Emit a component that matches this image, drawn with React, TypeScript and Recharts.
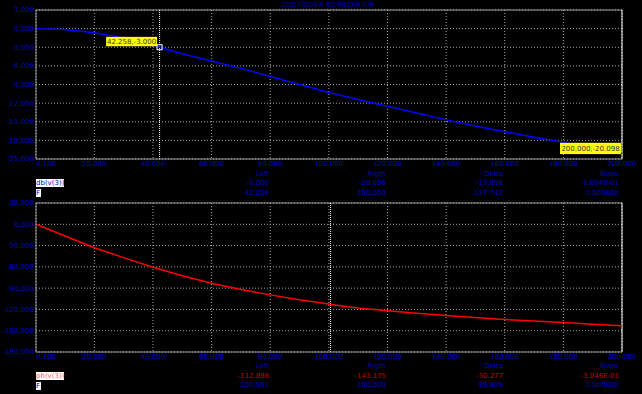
import React from 'react';
import { LineChart, Line, XAxis, YAxis, CartesianGrid, ReferenceLine, ReferenceDot } from 'recharts';

const title = '2ND ORDER RC-FILTER CIR';

const freqTicks = [0.1, 20, 40, 60, 80, 100, 120, 140, 160, 180, 200];
const dbTicks = [3, 0, -3, -6, -9, -12, -15, -18, -21];
const phTicks = [30, 0, -30, -60, -90, -120, -150, -180];

const dbFreq = [0.1, 10, 20, 30, 40, 42.258, 50, 60, 70, 80, 90, 100, 110, 120, 130, 140, 150, 160, 170, 180, 190, 200];
const dbValues = [0, -0.15, -0.65, -1.5, -2.7, -3.0, -4.05, -5.2, -6.4, -7.7, -9.0, -10.3, -11.4, -12.5, -13.6, -14.7, -15.7, -16.6, -17.5, -18.3, -19.2, -20.098];

const phFreq = [0.1, 10, 20, 30, 40, 50, 60, 70, 80, 90, 100, 100.591, 110, 120, 130, 140, 150, 160, 170, 180, 190, 200];
const phValues = [0, -16.5, -33, -47, -60.5, -72.5, -83, -92, -99.5, -106.5, -112.4, -112.898, -118, -121.8, -125.5, -128.6, -131.5, -134.2, -136.3, -138.5, -140.9, -143.175];

const colHeaders = ['Left', 'Right', 'Delta', 'Slope'];
const dbCursorValues = ['-3.000', '-20.098', '-17.098', '-1.084E-01'];
const dbCursorFreqs = ['42.258', '200.000', '157.742', '1.000E00'];
const phCursorValues = ['-112.898', '-143.175', '-30.277', '-3.046E-01'];
const phCursorFreqs = ['100.591', '200.000', '99.409', '1.000E00'];

const dbLeft = { f: 42.258, v: -3.0, label: '42.258,-3.000' };
const dbRight = { f: 200, v: -20.098, label: '200.000,-20.098' };
const phLeftF = 100.591;
const phRightF = 200;

const dbData = dbFreq.map((f, i) => ({ f, v: dbValues[i] }));
const phData = phFreq.map((f, i) => ({ f, v: phValues[i] }));

const FONT = 'DejaVu Sans';
const BLUE = '#0000c8';
const GRID = '#a8a8a8';
const BORDER = '#9a9a9a';

const XTick = (props: any) => {
  const { x, y, payload } = props;
  const first = payload.value === freqTicks[0];
  return (
    <text x={x} y={y} dy="0.71em" textAnchor={first ? 'start' : 'middle'} fill={BLUE} fontSize={7} fontFamily={FONT}>
      {Number(payload.value).toFixed(3)}
    </text>
  );
};

const YTick = (props: any) => {
  const { x, y, payload } = props;
  return (
    <text x={x} y={y} dy="0.355em" textAnchor="end" fill={BLUE} fontSize={7} fontFamily={FONT}>
      {Number(payload.value).toFixed(3)}
    </text>
  );
};

const makeMark = (label: string, boxW: number, boxTop: number, boxBottom: number, square: boolean) => (p: any) => {
  const { cx, cy } = p;
  if (cx == null || cy == null) return <g />;
  const right = square ? cx - 2.5 : cx - 1;
  return (
    <g>
      <rect x={right - boxW} y={cy + boxTop} width={boxW} height={boxBottom - boxTop} fill="#ffff00" />
      <text x={right - boxW / 2} y={cy + (boxTop + boxBottom) / 2} dy="0.355em" textAnchor="middle" fill="#333" fontSize={7} fontFamily={FONT}>
        {label}
      </text>
      {square && <rect x={cx - 2.5} y={cy - 2.5} width={5} height={5} fill="none" stroke="#ffffff" strokeWidth={1} />}
    </g>
  );
};

const colRight = [269, 386, 503, 619];

const InfoBlock = ({ top, values, freqs, valueColor, name, nameColor }: any) => (
  <>
    {colHeaders.map((h, i) => (
      <div key={'h' + i} style={{ position: 'absolute', right: 642 - colRight[i], top: top - 4, lineHeight: '8px', fontSize: 7, fontFamily: FONT, color: BLUE, whiteSpace: 'nowrap' }}>{h}</div>
    ))}
    {values.map((v: string, i: number) => (
      <div key={'v' + i} style={{ position: 'absolute', right: 642 - colRight[i], top: top + 9.6 - 4, lineHeight: '8px', fontSize: 7, fontFamily: FONT, color: valueColor, whiteSpace: 'nowrap' }}>{v}</div>
    ))}
    {freqs.map((v: string, i: number) => (
      <div key={'f' + i} style={{ position: 'absolute', right: 642 - colRight[i], top: top + 19.2 - 4, lineHeight: '8px', fontSize: 7, fontFamily: FONT, color: BLUE, whiteSpace: 'nowrap' }}>{v}</div>
    ))}
    <div style={{ position: 'absolute', left: 36, top: top + 5.5, height: 8, lineHeight: '8px', fontSize: 7, fontFamily: FONT, color: nameColor, background: '#ffffff', whiteSpace: 'nowrap' }}>{name}</div>
    <div style={{ position: 'absolute', left: 36, top: top + 15.5, height: 8, width: 5, lineHeight: '8px', fontSize: 7, fontFamily: FONT, color: BLUE, background: '#ffffff', whiteSpace: 'nowrap' }}>F</div>
  </>
);

export default function App() {
  return (
    <div style={{ position: 'absolute', left: 0, top: 0, width: 642, height: 394, background: '#000000', overflow: 'hidden' }}>
      <div style={{ position: 'absolute', left: 0, top: 1, width: 642, textAlign: 'center', paddingLeft: 14, boxSizing: 'border-box', fontSize: 7, lineHeight: '8px', fontFamily: FONT, color: '#0000a0' }}>{title}</div>

      <div style={{ position: 'absolute', left: 0, top: 0 }}>
        <LineChart width={642} height={200} data={dbData} margin={{ top: 10, right: 20, left: 0, bottom: 21 }}>
          <CartesianGrid stroke={GRID} strokeDasharray="1 2" />
          <XAxis dataKey="f" type="number" domain={[0.1, 200]} ticks={freqTicks} interval={0} allowDataOverflow height={20} tickSize={0} tickMargin={2} tickLine={false} axisLine={{ stroke: BORDER }} tick={<XTick />} />
          <YAxis type="number" domain={[-21, 3]} ticks={dbTicks} interval={0} allowDataOverflow width={36} tickSize={0} tickMargin={2} tickLine={false} axisLine={{ stroke: BORDER }} tick={<YTick />} />
          <ReferenceLine y={3} stroke={BORDER} />
          <ReferenceLine x={dbLeft.f} stroke="#ffffff" strokeDasharray="1 1" />
          <ReferenceLine x={dbRight.f} stroke="#ffffff" />
          <Line dataKey="v" stroke="#0000ff" strokeWidth={1.5} dot={false} isAnimationActive={false} type="linear" />
          <ReferenceDot x={dbLeft.f} y={dbLeft.v} r={3} ifOverflow="visible" shape={makeMark(dbLeft.label, 51, -10.4, -1, true)} />
          <ReferenceDot x={dbRight.f} y={dbRight.v} r={3} ifOverflow="visible" shape={makeMark(dbRight.label, 61, -10.6, 0.7, false)} />
        </LineChart>
      </div>

      <InfoBlock top={173.7} values={dbCursorValues} freqs={dbCursorFreqs} valueColor={BLUE} name="db(v(3))" nameColor={BLUE} />

      <div style={{ position: 'absolute', left: 0, top: 195 }}>
        <LineChart width={642} height={199} data={phData} margin={{ top: 8, right: 20, left: 0, bottom: 22 }}>
          <CartesianGrid stroke={GRID} strokeDasharray="1 2" />
          <XAxis dataKey="f" type="number" domain={[0.1, 200]} ticks={freqTicks} interval={0} allowDataOverflow height={20} tickSize={0} tickMargin={2} tickLine={false} axisLine={{ stroke: BORDER }} tick={<XTick />} />
          <YAxis type="number" domain={[-180, 30]} ticks={phTicks} interval={0} allowDataOverflow width={36} tickSize={0} tickMargin={2} tickLine={false} axisLine={{ stroke: BORDER }} tick={<YTick />} />
          <ReferenceLine y={30} stroke={BORDER} />
          <ReferenceLine x={phLeftF} stroke="#ffffff" strokeDasharray="1 1" />
          <ReferenceLine x={phRightF} stroke="#ffffff" />
          <Line dataKey="v" stroke="#ff0000" strokeWidth={1.5} dot={false} isAnimationActive={false} type="linear" />
        </LineChart>
      </div>

      <InfoBlock top={366} values={phCursorValues} freqs={phCursorFreqs} valueColor="#c80000" name="ph(v(3))" nameColor="#ff5a5a" />
    </div>
  );
}
